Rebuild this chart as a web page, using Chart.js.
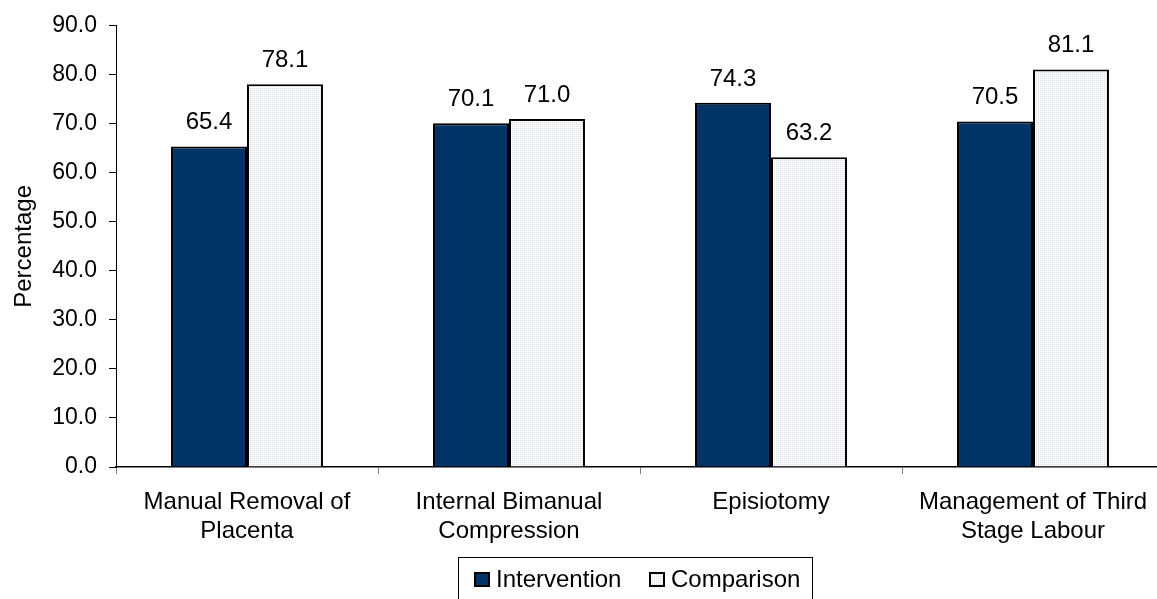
<!DOCTYPE html>
<html>
<head>
<meta charset="utf-8">
<script src="https://cdn.jsdelivr.net/npm/chart.js@4.4.1/dist/chart.umd.min.js"></script>
<style>
  html, body { margin: 0; padding: 0; background: #fff; overflow: hidden; }
  #wrap { width: 1165px; height: 599px; }
</style>
</head>
<body>
<div id="wrap"><canvas id="c" width="1165" height="599"></canvas></div>
<script>
// Categories (two-line labels) and the two series, in percent
const categories = [
  ['Manual Removal of', 'Placenta'],
  ['Internal Bimanual', 'Compression'],
  ['Episiotomy'],
  ['Management of Third', 'Stage Labour']
];
const seriesNames = ['Intervention', 'Comparison'];
const intervention = [65.4, 70.1, 74.3, 70.5];
const comparison = [78.1, 71.0, 63.2, 81.1];
const yTicks = [0, 10, 20, 30, 40, 50, 60, 70, 80, 90];

const FONT = '"Liberation Sans", Arial, sans-serif';
const NAVY = '#003366';

// fine dotted fill for the comparison bars
function dotPattern() {
  const p = document.createElement('canvas');
  p.width = 2; p.height = 2;
  const g = p.getContext('2d');
  g.fillStyle = '#ffffff';
  g.fillRect(0, 0, 2, 2);
  g.fillStyle = '#d6dae4';
  g.fillRect(0, 0, 1, 1);
  return g.createPattern(p, 'repeat');
}
const ctx = document.getElementById('c').getContext('2d');
const dots = dotPattern();

// value labels above each bar
const valueLabels = {
  id: 'valueLabels',
  afterDatasetsDraw(chart) {
    const c = chart.ctx;
    c.save();
    c.font = '24px ' + FONT;
    c.fillStyle = '#000';
    c.textAlign = 'center';
    c.textBaseline = 'alphabetic';
    chart.data.datasets.forEach((ds, i) => {
      chart.getDatasetMeta(i).data.forEach((bar, j) => {
        c.fillText(ds.data[j].toFixed(1), bar.x, bar.y - 17);
      });
    });
    c.restore();
  }
};

// boxed legend below the axis
const boxedLegend = {
  id: 'boxedLegend',
  afterDraw(chart) {
    const c = chart.ctx;
    c.save();
    c.strokeStyle = '#000';
    c.lineWidth = 1;
    c.strokeRect(458.5, 557.5, 354, 60);
    c.font = '24px ' + FONT;
    c.textBaseline = 'middle';
    c.fillStyle = '#000';
    const xs = [474, 649];
    chart.data.datasets.forEach((ds, i) => {
      const x = xs[i];
      c.fillStyle = ds.backgroundColor;
      c.fillRect(x, 572, 16, 15);
      c.lineWidth = 2;
      c.strokeStyle = '#000';
      c.strokeRect(x + 1, 573, 14, 13);
      c.fillStyle = '#000';
      c.fillText(ds.label, x + 22, 580);
    });
    c.restore();
  }
};

new Chart(ctx, {
  type: 'bar',
  data: {
    labels: categories,
    datasets: [
      { label: seriesNames[0], data: intervention, backgroundColor: NAVY,
        borderColor: '#000', borderWidth: 2 },
      { label: seriesNames[1], data: comparison, backgroundColor: dots,
        borderColor: '#000', borderWidth: 2 }
    ]
  },
  options: {
    responsive: false,
    animation: false,
    devicePixelRatio: 1,
    layout: { padding: { top: 23, right: 1, bottom: 0, left: 0 } },
    datasets: { bar: { categoryPercentage: 0.58, barPercentage: 1.0 } },
    plugins: {
      legend: { display: false },
      tooltip: { enabled: false }
    },
    scales: {
      x: {
        grid: { offset: true, drawOnChartArea: false, drawTicks: true,
                tickLength: 7, color: '#808080' },
        border: { color: '#000', width: 1.5 },
        ticks: { color: '#000', font: { family: FONT, size: 24 },
                 padding: 14, maxRotation: 0, autoSkip: false },
        afterFit(s) { s.height = 132; }
      },
      y: {
        min: 0, max: 90,
        afterBuildTicks(s) { s.ticks = yTicks.map(v => ({ value: v })); },
        grid: { drawOnChartArea: false, drawTicks: true, tickLength: 7, color: '#000' },
        border: { color: '#000', width: 1 },
        ticks: { color: '#000', font: { family: FONT, size: 23 }, padding: 12,
                 callback: v => Number(v).toFixed(1) },
        title: { display: true, text: 'Percentage', color: '#000',
                 font: { family: FONT, size: 24 }, padding: { top: 10, bottom: 0 } },
        afterFit(s) { s.width = 116; }
      }
    }
  },
  plugins: [valueLabels, boxedLegend]
});
</script>
</body>
</html>
